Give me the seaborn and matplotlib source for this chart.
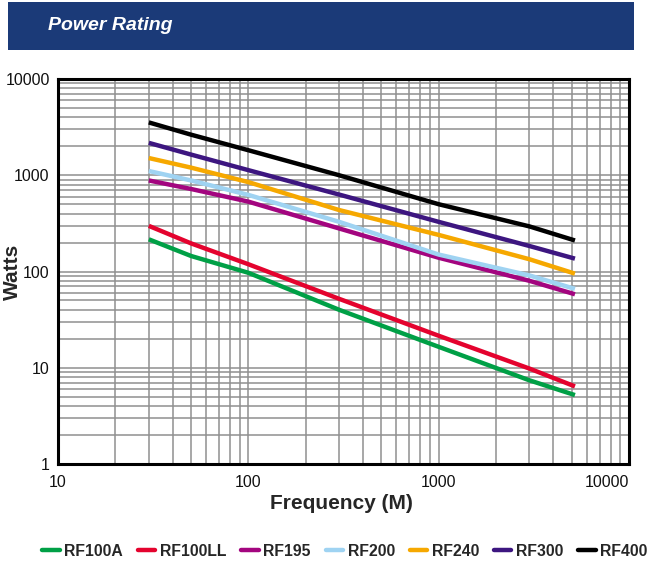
import numpy as np
import pandas as pd
import matplotlib
matplotlib.use("Agg")
import matplotlib.pyplot as plt
import seaborn as sns
from matplotlib.patches import Rectangle
from matplotlib.ticker import LogLocator, NullFormatter

# ---- data ----
freq = [30, 50, 100, 300, 1000, 3000, 5200]
rf100a = [216, 145, 97, 40, 16.5, 7.4, 5.2]
rf100ll = [298, 196, 119, 52, 21.5, 9.8, 6.4]
rf195 = [883, 720, 532, 280, 139, 80, 58]
rf200 = [1107, 883, 625, 328, 150, 91, 66]
rf240 = [1510, 1200, 849, 435, 240, 134, 95]
rf300 = [2170, 1640, 1130, 630, 328, 184, 136]
rf400 = [3540, 2640, 1820, 1000, 500, 294, 210]

series_names = ["RF100A", "RF100LL", "RF195", "RF200", "RF240", "RF300", "RF400"]
series_vals = [rf100a, rf100ll, rf195, rf200, rf240, rf300, rf400]
colors = ["#00a046", "#e4032e", "#a3057f", "#9fd3f2", "#f6a800", "#3d1680", "#000000"]

x_ticks = [10, 100, 1000, 10000]
x_ticklabels = ["10", "100", "1000", "10000"]
y_ticks = [1, 10, 100, 1000, 10000]
y_ticklabels = ["1", "10", "100", "1000", "10000"]

rows = []
for name, vals in zip(series_names, series_vals):
    for f, v in zip(freq, vals):
        rows.append({"Frequency": f, "Watts": v, "Cable": name})
df = pd.DataFrame(rows)

sns.set_style("white")
plt.rcParams["font.family"] = ["Liberation Sans", "DejaVu Sans"]

fig = plt.figure(figsize=(6.51, 5.67), dpi=100)
W, H = 651, 567

# title banner
fig.patches.append(Rectangle((8 / W, 1 - 50 / H), (634 - 8) / W, 48 / H,
                             transform=fig.transFigure, facecolor="#1b3a78",
                             edgecolor="none", zorder=0))
fig.text(48 / W, 1 - 25 / H, "Power Rating", color="white", fontsize=14,
         fontweight="bold", fontstyle="italic", va="center", ha="left")

ax = fig.add_axes([58 / W, 1 - 464 / H, (629 - 58) / W, (464 - 79) / H])
sns.lineplot(data=df, x="Frequency", y="Watts", hue="Cable",
             hue_order=series_names, palette=colors, linewidth=3.2,
             ax=ax, legend=False, sort=True)
for ln in ax.lines:
    ln.set_solid_capstyle("butt")

ax.set_xscale("log")
ax.set_yscale("log")
ax.set_xlim(10, 9600)
ax.set_ylim(1, 10000)

ax.set_xticks(x_ticks)
ax.set_xticklabels(x_ticklabels)
ax.set_yticks(y_ticks)
ax.set_yticklabels(y_ticklabels)
ax.xaxis.set_minor_locator(LogLocator(base=10, subs=np.arange(2, 10)))
ax.yaxis.set_minor_locator(LogLocator(base=10, subs=np.arange(2, 10)))
ax.xaxis.set_minor_formatter(NullFormatter())
ax.yaxis.set_minor_formatter(NullFormatter())
ax.grid(True, which="both", color="#8f8f8f", linewidth=1.1)
ax.set_axisbelow(True)
ax.tick_params(which="both", length=0, labelsize=11.5, colors="#111111")
ax.tick_params(axis="x", pad=8)
ax.tick_params(axis="y", pad=6)
# last x label sits slightly inside, as in the reference
xl = ax.get_xticklabels()
xl[-1].set_horizontalalignment("right")
for sp in ax.spines.values():
    sp.set_visible(True)
    sp.set_color("black")
    sp.set_linewidth(2.2)

ax.set_xlabel("Frequency (M)", fontsize=15, fontweight="bold")
ax.set_ylabel("Watts", fontsize=15, fontweight="bold")
ax.xaxis.set_label_coords(0.497, -0.078)
ax.yaxis.set_label_coords(-0.063, 0.50)

# legend
handles = [plt.Line2D([], [], color=c, linewidth=3.2) for c in colors]
fig.legend(handles, series_names, loc="center", bbox_to_anchor=(345 / W, 1 - 551 / H),
           ncol=7, frameon=False, handlelength=1.1, handletextpad=0.3,
           columnspacing=0.95, prop={"family": "Liberation Sans",
                                      "weight": "bold", "size": 11.3})

fig.savefig("out.png", dpi=100)
